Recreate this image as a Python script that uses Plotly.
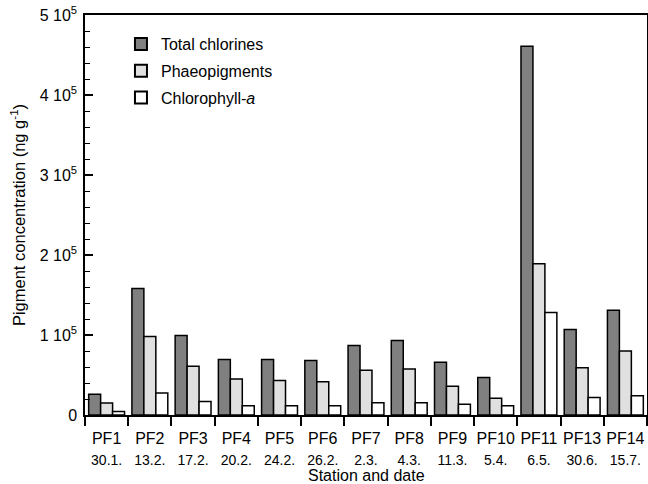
import plotly.graph_objects as go

stations = ["PF1", "PF2", "PF3", "PF4", "PF5", "PF6", "PF7", "PF8", "PF9", "PF10", "PF11", "PF13", "PF14"]
dates = ["30.1.", "13.2.", "17.2.", "20.2.", "24.2.", "26.2.", "2.3.", "4.3.", "11.3.", "5.4.", "6.5.", "30.6.", "15.7."]
total_chlorines = [26000, 158000, 99500, 69500, 69500, 68000, 87000, 93000, 66000, 47000, 461000, 107000, 131000]
phaeopigments = [15000, 98000, 61000, 45000, 43000, 41500, 56000, 57500, 36000, 21000, 189000, 59000, 80000]
chlorophyll_a = [4500, 27500, 17000, 11600, 11600, 11600, 15400, 15400, 13300, 11600, 128000, 22000, 24000]
y_tickvals = [0, 100000, 200000, 300000, 400000, 500000]
y_ticktext = ["0", "1 10<sup>5</sup>", "2 10<sup>5</sup>", "3 10<sup>5</sup>", "4 10<sup>5</sup>", "5 10<sup>5</sup>"]

x_ticktext = [f"{s}<br><span style='font-size:14px'>{d}</span>" for s, d in zip(stations, dates)]

fig = go.Figure()
line = dict(color="black", width=1.5)
fig.add_trace(go.Bar(x=stations, y=total_chlorines, name="Total chlorines", legendgroup="a",
                     marker=dict(color="#808080", line=line)))
fig.add_trace(go.Bar(x=stations, y=phaeopigments, name="Phaeopigments", legendgroup="b",
                     marker=dict(color="#e0e0e0", line=line)))
fig.add_trace(go.Bar(x=stations, y=chlorophyll_a, name="Chlorophyll-<i>a</i>", legendgroup="c",
                     marker=dict(color="white", line=line)))

fig.update_layout(
    width=648, height=484,
    margin=dict(l=85, r=1, t=15, b=69, autoexpand=False),
    paper_bgcolor="white", plot_bgcolor="white",
    font=dict(family="Liberation Sans, Arial, sans-serif", size=16, color="black"),
    barmode="group", bargap=0.17, bargroupgap=0,
    legend=dict(x=0.064, y=0.97, xanchor="left", yanchor="top",
                bgcolor="rgba(0,0,0,0)", font=dict(size=16), tracegroupgap=3,
                itemsizing="constant"),
    showlegend=True,
    annotations=[dict(text="Station and date", xref="paper", yref="paper",
                      x=0.5, y=0, yshift=-60, xanchor="center", yanchor="middle",
                      showarrow=False, font=dict(size=16))],
)
fig.update_xaxes(
    tickmode="array", tickvals=stations, ticktext=x_ticktext, tickangle=0, automargin=False,
    tickson="boundaries", ticks="outside", ticklen=9, tickwidth=1.5, tickcolor="black",
    ticklabelstandoff=8,
    showline=True, linecolor="black", linewidth=1.5, mirror=True,
    showgrid=False, tickfont=dict(size=16),
)
fig.update_yaxes(
    range=[0, 500000], tickmode="array", tickvals=y_tickvals, ticktext=y_ticktext, automargin=False,
    ticks="inside", ticklen=8, tickwidth=1.5, tickcolor="black", ticklabelstandoff=3,
    ticklabeloverflow="allow",
    minor=dict(dtick=20000, ticks="inside", ticklen=5, tickwidth=1.2, tickcolor="black", showgrid=False),
    showline=True, linecolor="black", linewidth=1.5, mirror=True,
    showgrid=False, zeroline=False, tickfont=dict(size=16),
    title=dict(text="Pigment concentration (ng g<sup>-1</sup>)", font=dict(size=16.5), standoff=10),
)

fig.write_html("out.html", config={"displayModeBar": False},
               post_script="document.body.style.margin='0';document.body.style.overflow='hidden';")
